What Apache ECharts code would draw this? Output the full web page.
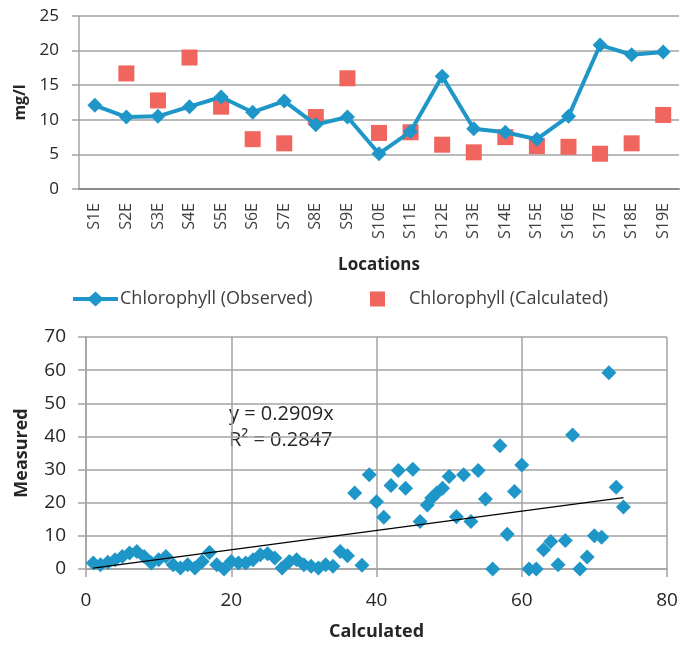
<!DOCTYPE html>
<html>
<head>
<meta charset="utf-8">
<script src="https://cdn.jsdelivr.net/npm/echarts@6/dist/echarts.min.js"></script>
<style>
  html, body { margin: 0; padding: 0; background: #fff; }
  #main { width: 681px; height: 647px; }
</style>
</head>
<body>
<div id="main"></div>
<script>
// top chart: chlorophyll per location
var locations = ['S1E', 'S2E', 'S3E', 'S4E', 'S5E', 'S6E', 'S7E', 'S8E', 'S9E', 'S10E',
  'S11E', 'S12E', 'S13E', 'S14E', 'S15E', 'S16E', 'S17E', 'S18E', 'S19E'];
var observed = [12.1, 10.4, 10.5, 11.9, 13.3, 11.1, 12.7, 9.3, 10.4, 5.1,
  8.3, 16.3, 8.7, 8.2, 7.2, 10.5, 20.8, 19.4, 19.8];
var calculated = [null, 16.7, 12.8, 19.0, 11.9, 7.2, 6.6, 10.4, 16.0, 8.1,
  8.2, 6.4, 5.3, 7.5, 6.2, 6.1, 5.1, 6.6, 10.7];
var topTicks = [0, 5, 10, 15, 20, 25];

// bottom chart: measured vs calculated
var calcX = [1, 2, 3, 4, 5, 6, 7, 8, 9, 10, 11, 12, 13, 14, 15, 16, 17, 18, 19, 20,
  21, 22, 23, 24, 25, 26, 27, 28, 29, 30, 31, 32, 33, 34, 35, 36, 37, 38, 39, 40,
  41, 42, 43, 44, 45, 46, 47, 47.6, 48.3, 49.1, 50, 51, 52, 53, 54, 55, 56, 57, 58, 59,
  60, 61, 62, 63, 64, 65, 66, 67, 68, 69, 70, 71, 72, 73, 74];
var measuredY = [1.8, 1.3, 2, 2.8, 3.8, 4.8, 5.3, 3.8, 1.8, 2.8, 3.8, 1.3, 0.3, 1.3, 0.3, 2.3, 5, 1.3, 0, 2.3,
  1.8, 1.8, 2.8, 4.3, 4.6, 3.3, 0.3, 2.3, 2.8, 1.3, 0.8, 0.3, 1.3, 0.8, 5.3, 4, 22.9, 1.1, 28.4, 20.3,
  15.6, 25.2, 29.7, 24.4, 30.1, 14.3, 19.3, 21.4, 22.9, 24.4, 27.9, 15.8, 28.4, 14.3, 29.7, 21.1, 0, 37.2, 10.5, 23.4,
  31.4, 0, 0, 5.8, 8.3, 1.3, 8.6, 40.4, 0, 3.6, 10, 9.6, 59.2, 24.7, 18.7];
var slope = 0.2909;
var trendRange = [1, 74];

var blue = '#1f96c8';
var red = '#f0655e';
var gridGray = '#a3a3a3';
var font = 'Open Sans';

var chart = echarts.init(document.getElementById('main'), null, { renderer: 'canvas' });

var calcPairs = [];
calculated.forEach(function (v, i) {
  if (v !== null) calcPairs.push([locations[i], v]);
});
var scatterPairs = calcX.map(function (x, i) { return [x, measuredY[i]]; });
var trendPairs = trendRange.map(function (x) { return [x, slope * x]; });

// thick line with a diamond in the middle, like the office legend key
var lineKey = 'path://M0,5.5H16.5L22.5,0L28.5,5.5H45V9.5H28.5L22.5,15L16.5,9.5H0Z';

chart.setOption({
  animation: false,
  textStyle: { fontFamily: font },
  grid: [
    { left: 79, right: 2, top: 16, bottom: 458 },
    { left: 86, right: 14, top: 337, bottom: 78 }
  ],
  legend: [
    {
      left: 73, top: 290, padding: 0,
      itemWidth: 45, itemHeight: 15,
      data: [{ name: 'Chlorophyll (Observed)', icon: lineKey }],
      textStyle: { fontFamily: font, fontSize: 18, color: '#404040', padding: [0, 0, 0, -3] }
    },
    {
      left: 370, top: 290, padding: 0,
      itemWidth: 15, itemHeight: 15,
      data: [{ name: 'Chlorophyll (Calculated)', icon: 'rect' }],
      textStyle: { fontFamily: font, fontSize: 18, color: '#404040', padding: [0, 0, 0, 19] }
    }
  ],
  xAxis: [
    {
      type: 'category',
      gridIndex: 0,
      data: locations,
      name: 'Locations',
      nameLocation: 'middle',
      nameGap: 68,
      nameTextStyle: { fontFamily: font, fontSize: 17, fontWeight: 'bold', color: '#262626' },
      axisLine: { lineStyle: { color: '#8c8c8c', width: 2 } },
      axisTick: { show: false },
      axisLabel: { rotate: 90, margin: 14, fontSize: 16, color: '#404040', interval: 0 }
    },
    {
      type: 'value',
      gridIndex: 1,
      min: 0, max: 80, interval: 20,
      name: 'Calculated',
      nameLocation: 'middle',
      nameGap: 54,
      nameTextStyle: { fontFamily: font, fontSize: 18, fontWeight: 'bold', color: '#262626' },
      axisLine: { show: true, lineStyle: { color: gridGray, width: 1.5 } },
      axisTick: { show: true, length: 8, lineStyle: { color: gridGray, width: 1.5 } },
      axisLabel: { margin: 22, fontSize: 19, color: '#262626' },
      splitLine: { show: true, lineStyle: { color: gridGray, width: 1.5 } }
    }
  ],
  yAxis: [
    {
      type: 'value',
      gridIndex: 0,
      min: topTicks[0], max: topTicks[topTicks.length - 1], interval: 5,
      name: 'mg/l',
      nameLocation: 'middle',
      nameGap: 50,
      nameTextStyle: { fontFamily: font, fontSize: 16, fontWeight: 'bold', color: '#262626' },
      axisLine: { show: true, lineStyle: { color: gridGray, width: 1.5 } },
      axisTick: { show: true, length: 7, lineStyle: { color: gridGray, width: 1.5 } },
      axisLabel: { margin: 20, fontSize: 17, color: '#262626' },
      splitLine: { lineStyle: { color: gridGray, width: 1.5 } }
    },
    {
      type: 'value',
      gridIndex: 1,
      min: 0, max: 70, interval: 10,
      name: 'Measured',
      nameLocation: 'middle',
      nameGap: 55,
      nameTextStyle: { fontFamily: font, fontSize: 18, fontWeight: 'bold', color: '#262626' },
      axisLine: { show: true, lineStyle: { color: gridGray, width: 1.5 } },
      axisTick: { show: true, length: 8, lineStyle: { color: gridGray, width: 1.5 } },
      axisLabel: { margin: 20, fontSize: 19, color: '#262626' },
      splitLine: { lineStyle: { color: gridGray, width: 1.5 } }
    }
  ],
  graphic: [
    {
      type: 'text', left: 229, top: 404,
      style: { text: 'y = 0.2909x', font: '20px "Open Sans"', fill: '#262626' }
    },
    {
      type: 'text', left: 229, top: 430,
      style: { text: 'R² = 0.2847', font: '20px "Open Sans"', fill: '#262626' }
    }
  ],
  series: [
    {
      name: 'Chlorophyll (Observed)',
      type: 'line',
      xAxisIndex: 0, yAxisIndex: 0,
      data: observed,
      symbol: 'diamond',
      symbolSize: 15,
      itemStyle: { color: blue },
      lineStyle: { color: blue, width: 4 }
    },
    {
      name: 'Chlorophyll (Calculated)',
      type: 'scatter',
      xAxisIndex: 0, yAxisIndex: 0,
      data: calcPairs,
      symbol: 'rect',
      symbolSize: 16,
      itemStyle: { color: red, opacity: 1 }
    },
    {
      name: 'Measured',
      type: 'scatter',
      xAxisIndex: 1, yAxisIndex: 1,
      data: scatterPairs,
      symbol: 'diamond',
      symbolSize: 15,
      itemStyle: { color: blue, opacity: 1 }
    },
    {
      name: 'Trend',
      type: 'line',
      xAxisIndex: 1, yAxisIndex: 1,
      data: trendPairs,
      symbol: 'none',
      lineStyle: { color: '#000', width: 1.3 }
    }
  ]
});
</script>
</body>
</html>
